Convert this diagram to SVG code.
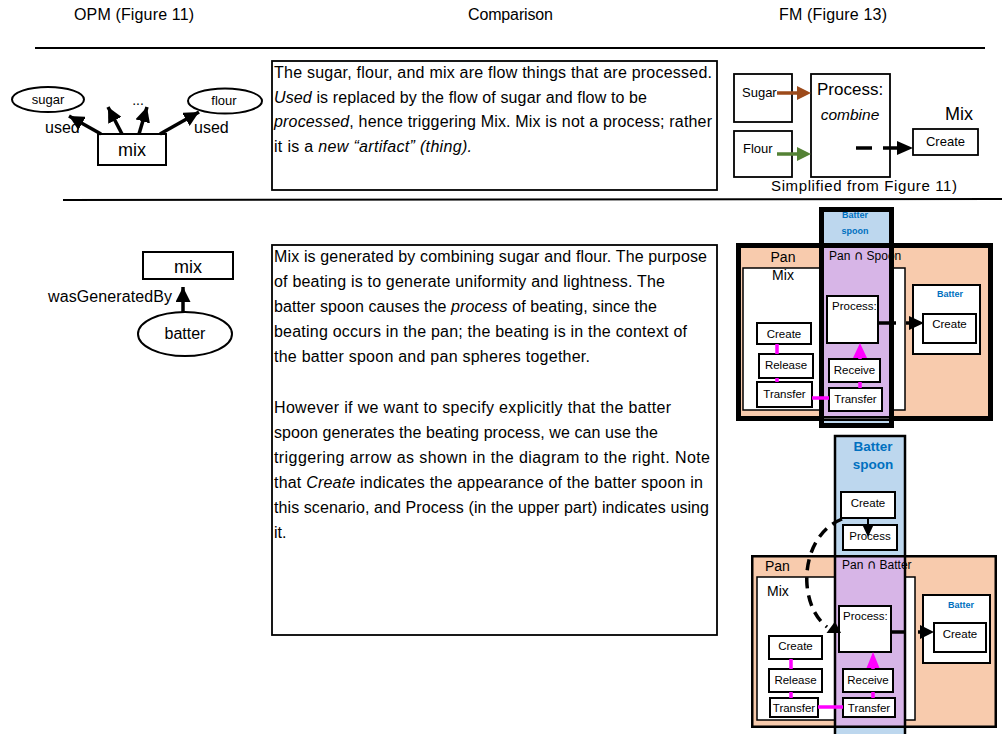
<svg xmlns="http://www.w3.org/2000/svg" width="1002" height="734" viewBox="0 0 1002 734">
<defs>
<style>
text{font-family:"Liberation Sans",Arial,sans-serif;fill:#000}
.hd{font-size:16px}
.bd{font-size:16px}
.it{font-style:italic}
.mid{text-anchor:middle}
.cap{font-family:"DejaVu Sans",sans-serif;font-size:13px}
.box{fill:#fff;stroke:#000;stroke-width:2}
.tbox{fill:#fff;stroke:#000;stroke-width:1.8}
.sm{font-size:11.5px;text-anchor:middle}
.sml{font-size:11.5px}
.blue{fill:#0070C0;font-weight:bold;text-anchor:middle}
.mag{stroke:#FF00FF;stroke-width:3.5;fill:none}
.magf{fill:#FF00FF}
.pan{fill:#F8CBAD}
.spoon{fill:#BDD7EE}
.both{fill:#D7B5E7}
.arr{stroke:#000;stroke-width:3.5;fill:none}
.edge{fill:none;stroke:#000}
</style>
<marker id="ah" viewBox="0 0 10 10" refX="10" refY="5" markerWidth="15" markerHeight="15" markerUnits="userSpaceOnUse" orient="auto"><path d="M0,0L10,5L0,10z" fill="#000"/></marker>
</defs>
<rect width="1002" height="734" fill="#fff"/>

<!-- column headings and separators -->
<g id="header">
<text class="hd" x="74" y="20" textLength="120">OPM (Figure 11)</text>
<text class="hd" x="468" y="20" textLength="85">Comparison</text>
<text class="hd" x="779" y="20" textLength="108">FM (Figure 13)</text>
<line x1="35" y1="48" x2="985" y2="48" stroke="#000" stroke-width="2"/>
<line x1="63" y1="200" x2="1002" y2="199" stroke="#000" stroke-width="2"/>
</g>

<!-- OPM: mix uses sugar and flour -->
<g id="opm-sugar"><ellipse cx="48" cy="99.5" rx="36" ry="12.5" fill="#fff" stroke="#000" stroke-width="2"/><text x="48" y="104" font-size="13" class="mid">sugar</text></g>
<g id="opm-flour"><ellipse cx="225" cy="101" rx="37" ry="12.5" fill="#fff" stroke="#000" stroke-width="2"/><text x="224" y="105" font-size="13" class="mid">flour</text></g>
<g id="opm-mix"><rect x="98" y="134" width="68" height="31" class="box"/><text x="132" y="156" font-size="18" class="mid">mix</text></g>
<g id="opm-labels">
<text x="138" y="105" font-size="14" class="mid">...</text>
<text x="45" y="133" font-size="16">used</text>
<text x="194" y="133" font-size="16">used</text>
</g>

<!-- comparison text, first row -->
<g id="note-1">
<rect x="272" y="61" width="445" height="129" class="tbox"/>
<text class="bd" x="274" y="78" textLength="438">The sugar, flour, and mix are flow things that are processed.</text>
<text class="bd" x="274" y="102.5" textLength="373"><tspan class="it">Used</tspan> is replaced by the flow of sugar and flow to be</text>
<text class="bd" x="274" y="127" textLength="438"><tspan class="it">processed</tspan>, hence triggering Mix. Mix is not a process; rather</text>
<text class="bd" x="274" y="151.5" textLength="198">it is a <tspan class="it">new “artifact” (thing).</tspan></text>
</g>

<!-- FM: combine process -->
<g id="fm-sugar"><rect x="734" y="74" width="58" height="48" class="tbox"/><text x="742" y="97" font-size="13">Sugar</text></g>
<g id="fm-flour"><rect x="734" y="131" width="58" height="46" class="tbox"/><text x="743" y="153" font-size="13">Flour</text></g>
<g id="fm-combine"><rect x="811" y="74" width="79" height="103" class="tbox"/><text x="817" y="95" font-size="17">Process:</text><text x="850" y="120" font-size="15.5" class="mid it">combine</text></g>
<g id="fm-mix"><text x="945" y="120" font-size="18">Mix</text><rect x="913" y="129" width="65" height="26" class="tbox"/><text x="945.5" y="146" font-size="13" class="mid">Create</text></g>
<text x="771" y="191" font-size="15" textLength="186">Simplified from Figure 11)</text>

<!-- OPM: mix generated by batter -->
<g id="opm-mix2"><rect x="143" y="252" width="90" height="27" class="box"/><text x="188" y="273" font-size="18" class="mid">mix</text></g>
<g id="opm-batter"><ellipse cx="185" cy="334" rx="47" ry="22" fill="#fff" stroke="#000" stroke-width="2"/><text x="185" y="339" font-size="16" class="mid">batter</text></g>
<text x="48" y="302" font-size="16" textLength="124">wasGeneratedBy</text>

<!-- comparison text, second row -->
<g id="note-2">
<rect x="272" y="245" width="445" height="390" class="tbox"/>
<text class="bd" x="274" y="262" textLength="433">Mix is generated by combining sugar and flour. The purpose</text>
<text class="bd" x="274" y="287" textLength="391">of beating is to generate uniformity and lightness. The</text>
<text class="bd" x="274" y="312" textLength="383">batter spoon causes the <tspan class="it">process</tspan> of beating, since the</text>
<text class="bd" x="274" y="337" textLength="413">beating occurs in the pan; the beating is in the context of</text>
<text class="bd" x="274" y="362" textLength="316">the batter spoon and pan spheres together.</text>
<text class="bd" x="274" y="413" textLength="397">However if we want to specify explicitly that the batter</text>
<text class="bd" x="274" y="438" textLength="384">spoon generates the beating process, we can use the</text>
<text class="bd" x="274" y="463" textLength="436">triggering arrow as shown in the diagram to the right. Note</text>
<text class="bd" x="274" y="488" textLength="429">that <tspan class="it">Create</tspan> indicates the appearance of the batter spoon in</text>
<text class="bd" x="274" y="513" textLength="435">this scenario, and Process (in the upper part) indicates using</text>
<text class="bd" x="274" y="538">it.</text>
</g>

<!-- FM: pan and spoon spheres (beating) -->
<g id="fm-spheres-1">
<rect x="738.5" y="245.5" width="252" height="173" class="pan"/>
<rect x="743" y="268" width="162" height="142" fill="#fff" stroke="#000" stroke-width="1.5"/>
<rect x="821.5" y="209.5" width="70" height="216" class="spoon"/>
<rect x="822" y="246" width="69" height="172" class="both"/>
<text x="783" y="262" font-size="14" class="mid">Pan</text>
<text x="783" y="280" font-size="14" class="mid">Mix</text>
<text x="829" y="260" font-size="12">Pan <tspan class="cap">∩</tspan> Spoon</text>
<rect x="738.5" y="245.5" width="252" height="173" class="edge" stroke-width="5"/>
<line x1="822" y1="246" x2="891" y2="246" stroke="#000" stroke-width="2"/>
<line x1="822" y1="418.5" x2="891" y2="418.5" stroke="#555" stroke-width="1"/>
<rect x="821.5" y="209.5" width="70" height="216" class="edge" stroke-width="5"/>
<text x="855" y="218" font-size="9" class="blue">Batter</text>
<text x="855" y="234" font-size="9" class="blue">spoon</text>
</g>
<g id="fm1-process"><rect x="827" y="296" width="51" height="47" class="box"/><text x="832" y="310" class="sml">Process:</text></g>
<g id="fm1-batter"><rect x="913" y="285" width="67" height="69" class="box"/><text x="950" y="297" font-size="9" class="blue">Batter</text><rect x="923" y="314" width="53" height="29" class="box"/><text x="949.5" y="328" class="sm">Create</text></g>
<g id="fm1-create"><rect x="757" y="323" width="54" height="21" class="box"/><text x="784" y="337.5" class="sm">Create</text></g>
<g id="fm1-release"><rect x="759" y="354" width="54" height="24" class="box"/><text x="786" y="369" class="sm">Release</text></g>
<g id="fm1-transfer-out"><rect x="757" y="382" width="55" height="25" class="box"/><text x="784.5" y="398" class="sm">Transfer</text></g>
<g id="fm1-receive"><rect x="829" y="359" width="51" height="23" class="box"/><text x="854.5" y="374" class="sm">Receive</text></g>
<g id="fm1-transfer-in"><rect x="829" y="388" width="53" height="23" class="box"/><text x="855.5" y="403" class="sm">Transfer</text></g>

<!-- FM: batter spoon triggers beating -->
<g id="fm-spheres-2">
<rect x="752.25" y="556.25" width="243.5" height="170.5" class="pan"/>
<rect x="757" y="577" width="158" height="143" fill="#fff" stroke="#000" stroke-width="1.5"/>
<rect x="835" y="436" width="70" height="310" class="spoon"/>
<rect x="836" y="557" width="68" height="170" class="both"/>
<text x="765" y="571" font-size="14">Pan</text>
<text x="767" y="596" font-size="14">Mix</text>
<text x="842" y="569" font-size="12">Pan <tspan class="cap">∩</tspan> Batter</text>
<rect x="752.25" y="556.25" width="243.5" height="170.5" class="edge" stroke-width="2.5"/>
<rect x="835" y="436" width="70" height="310" class="edge" stroke-width="2.5"/>
<text x="873" y="451" font-size="13.5" class="blue">Batter</text>
<text x="873" y="469" font-size="13.5" class="blue">spoon</text>
</g>
<g id="fm2-spoon-create"><rect x="841" y="492" width="54" height="26" class="box"/><text x="868" y="507" class="sm">Create</text></g>
<g id="fm2-spoon-process"><rect x="843" y="525" width="54" height="25" class="box"/><text x="870" y="540" class="sm">Process</text></g>
<g id="fm2-process"><rect x="839" y="606" width="52" height="46" class="box"/><text x="843" y="620" class="sml">Process:</text></g>
<g id="fm2-batter"><rect x="923" y="595" width="67" height="68" class="box"/><text x="961" y="608" font-size="9" class="blue">Batter</text><rect x="934" y="623" width="52" height="29" class="box"/><text x="960" y="638" class="sm">Create</text></g>
<g id="fm2-create"><rect x="769" y="636" width="53" height="23" class="box"/><text x="795.5" y="650" class="sm">Create</text></g>
<g id="fm2-release"><rect x="769" y="669" width="53" height="23" class="box"/><text x="795.5" y="684" class="sm">Release</text></g>
<g id="fm2-transfer-out"><rect x="770" y="698" width="48" height="19" class="box"/><text x="794" y="712" class="sm">Transfer</text></g>
<g id="fm2-receive"><rect x="843" y="669" width="50" height="23" class="box"/><text x="868" y="684" class="sm">Receive</text></g>
<g id="fm2-transfer-in"><rect x="843" y="698" width="52" height="19" class="box"/><text x="869" y="712" class="sm">Transfer</text></g>

<!-- connectors -->
<g id="connectors">
<line x1="101" y1="134" x2="69" y2="116" class="arr" marker-end="url(#ah)"/>
<line x1="122" y1="134" x2="108" y2="107" class="arr" marker-end="url(#ah)"/>
<line x1="139" y1="134" x2="147" y2="107" class="arr" marker-end="url(#ah)"/>
<line x1="160" y1="134" x2="199" y2="112" class="arr" marker-end="url(#ah)"/>
<line x1="183" y1="312" x2="183" y2="287" class="arr" marker-end="url(#ah)"/>

<line x1="777" y1="93" x2="798" y2="93" stroke="#9C4A1A" stroke-width="3.5"/>
<polygon points="797,86 811,93 797,100" fill="#9C4A1A"/>
<line x1="777" y1="154" x2="798" y2="154" stroke="#548235" stroke-width="3.5"/>
<polygon points="797,147 811,154 797,161" fill="#548235"/>
<line x1="856" y1="148" x2="872" y2="148" class="arr"/>
<line x1="883" y1="148" x2="898" y2="148" class="arr"/>
<polygon points="897,141 913,148 897,155" fill="#000"/>

<line x1="878" y1="323" x2="896" y2="323" class="arr" stroke-width="4"/>
<line x1="906" y1="323" x2="911" y2="323" class="arr" stroke-width="4"/>
<polygon points="909,316 924,323 909,330" fill="#000"/>
<line x1="777" y1="344" x2="777" y2="354" class="mag"/>
<line x1="777" y1="378" x2="777" y2="382" class="mag"/>
<line x1="812" y1="398" x2="829" y2="398" class="mag"/>
<line x1="860" y1="388" x2="860" y2="382" class="mag"/>
<line x1="860" y1="359" x2="860" y2="356" class="mag"/>
<polygon points="853,358 860,343 867,358" class="magf"/>

<line x1="868" y1="518" x2="868" y2="525" stroke="#000" stroke-width="2"/>
<polygon points="862,524 874,524 868,537" fill="#000"/>
<path d="M842,519 C815,530 805,560 807,585 C809,605 816,618 827,627" class="arr" stroke-dasharray="11 7"/>
<polygon points="826.5,633 841,633 835,621.5" fill="#000"/>
<line x1="891" y1="632" x2="906" y2="632" class="arr" stroke-width="4"/>
<line x1="918" y1="632" x2="922" y2="632" class="arr" stroke-width="4"/>
<polygon points="920,625 934,632 920,639" fill="#000"/>
<line x1="791" y1="659" x2="791" y2="669" class="mag"/>
<line x1="791" y1="692" x2="791" y2="698" class="mag"/>
<line x1="818" y1="707" x2="843" y2="707" class="mag"/>
<line x1="873" y1="698" x2="873" y2="692" class="mag"/>
<line x1="873" y1="669" x2="873" y2="666" class="mag"/>
<polygon points="866.5,668 873,652 879.5,668" class="magf"/>
</g>
</svg>
